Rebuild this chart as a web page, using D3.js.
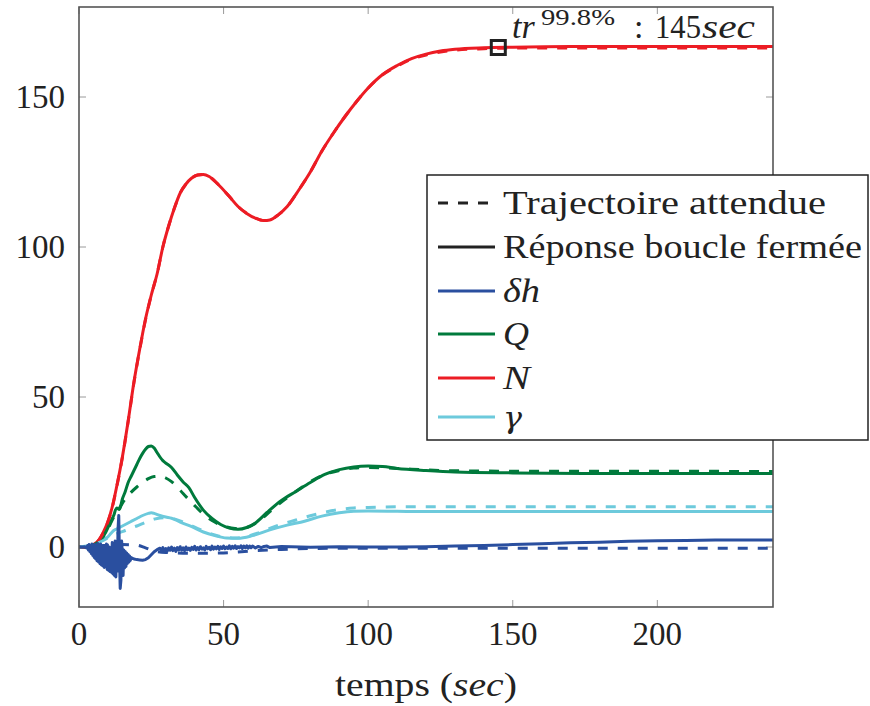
<!DOCTYPE html>
<html><head><meta charset="utf-8">
<script src="https://cdn.jsdelivr.net/npm/d3@7"></script>
<style>body{margin:0;background:#fff}svg{display:block}text{font-family:"Liberation Serif","DejaVu Serif",serif;fill:#222}</style>
</head><body><svg id="c" width="870" height="706"></svg>
<script>
// ---------- data ----------
const xTicks = [0, 50, 100, 150, 200];
const yTicks = [0, 50, 100, 150];
const seriesNames = ["δh", "Q", "N", "γ"];
const seriesColors = ["#2a4f9f", "#007a3c", "#ec1c24", "#6dcadc"];
const legendLabels = ["Trajectoire attendue", "Réponse boucle fermée"];

// δh — closed-loop response (noisy)
const dhRespT = [0,1,2,2.5,3,3.25,3.5,3.75,4,4.25,4.5,4.75,5,5.25,5.5,5.75,6,6.25,6.5,6.75,7,7.25,7.5,7.75,8,8.25,8.5,8.75,9,9.25,9.5,9.75,10,10.25,10.5,10.75,11,11.25,11.5,11.75,12,12.25,12.5,12.75,13,13.25,13.5,13.75,14,14.25,14.5,14.75,15,15.25,15.5,15.75,16,16.25,16.5,16.75,17,17.25,17.5,17.75,18,19,20,21,22,23,24,25,26,27,28,28.5,29,29.5,30,30.5,31,31.5,32,32.5,33,33.5,34,34.5,35,35.5,36,36.5,37,37.5,38,38.5,39,39.5,40,40.5,41,41.5,42,42.5,43,43.5,44,44.5,45,45.5,46,46.5,47,47.5,48,48.5,49,49.5,50,50.5,51,51.5,52,52.5,53,53.5,54,54.5,55,55.5,56,56.5,57,57.5,58,58.5,59,59.5,60,61,62,63,64,65,66,70,80,90,100,110,120,130,140,150,160,170,180,190,200,210,220,230,240];
const dhRespV = [0,0,0.1,-0.3,0.5,-1.0,0.8,-1.5,0.3,-2.2,1.0,-2.8,0.2,-3.5,0.8,-4.0,-0.5,-4.6,1.2,-5.0,0.0,-5.6,1.0,-6.0,-1.0,-6.3,0.5,-6.8,-1.5,-6.5,1.0,-7.5,-2.0,-7.8,0.0,-8.2,-1.0,-8.5,1.5,-9.0,-2.0,-9.5,2.0,-10.0,-1.0,-8.0,6.0,10.5,-4.0,-13.8,-11.0,2.0,-2.0,-9.5,-1.0,-7.0,-1.5,-6.5,-2.0,-5.5,-2.5,-5.0,-3.0,-4.5,-3.5,-4.0,-4.2,-4.3,-4.4,-4.2,-3.6,-2.6,-1.6,-0.9,-0.4,-1.3,-0.2,-1.2,-0.5,-1.4,-0.3,-1.1,0.0,-1.2,-0.4,-1.5,-0.2,-1.0,0.1,-1.1,-0.3,-1.2,0.0,-0.9,-0.4,-1.1,-0.1,-0.8,0.2,-1.0,-0.2,-0.9,0.1,-0.7,-0.3,-1.0,0.2,-0.6,-0.1,-0.9,0.3,-0.7,0.0,-0.6,0.2,-0.8,0.1,-0.5,0.3,-0.6,0.0,-0.5,0.4,-0.6,0.2,-0.4,0.4,-0.5,0.1,-0.3,0.4,-0.5,0.3,-0.3,0.4,-0.4,0.3,-0.2,0.3,-0.3,0.2,-0.2,0.2,0.3,-0.2,0.2,-0.1,0.1,0.0,0.0,0.1,0.3,0.5,0.8,1.1,1.4,1.6,1.9,2.1,2.2,2.3,2.3,2.3,2.2,2.0,1.9,1.8];
// δh — expected trajectory
const dhExpT = [0,5,10,15,20,23,26,30,40,50,60,70,80,100,150,240];
const dhExpV = [0,0.2,0.6,0.8,0.6,-0.3,-1.3,-1.8,-2.1,-2.0,-1.3,-0.8,-0.5,-0.4,-0.4,-0.4];

// Q
const qRespT = [0,3,5,7,9,11,12,13,14,15,16,17,18,19,20,21,22,23,24,25,26,27,28,29,30,32,34,36,38,40,43,46,49,52,55,58,61,65,70,75,80,85,90,95,100,105,110,120,130,150,180,210,240];
const qRespV = [0,0.1,0.6,2.0,4.5,8.5,10.5,13.0,12.5,16.0,18.5,21.5,23.5,25.5,27.5,29.5,31.2,32.6,33.5,33.7,33.0,31.5,30.0,28.8,28.0,26.5,24.0,21.7,19.8,16.5,12.3,9.5,7.5,6.3,5.9,6.5,8.0,11.5,15.5,18.5,21.5,24.2,25.8,26.7,27.0,26.8,26.2,25.5,25.0,24.7,24.5,24.5,24.5];
const qExpT = [0,5,8,10,12,14,16,18,20,22,24,26,28,30,32,34,36,38,40,43,46,50,54,58,62,66,70,75,80,85,90,95,100,110,120,140,240];
const qExpV = [0,0.5,3,6,10,13,16,18.2,20,21.5,22.8,23.5,23.6,23,21.8,20,17.8,15.8,13.8,11,8.8,7,6.2,6.5,8.5,11.8,15,18.5,21.8,24.2,25.5,26.3,26.5,26.2,25.7,25.3,25.2];

// N
const nRespT = [0,3,5,7,8.3,10,11.4,13,15,17,19,21,23,25,27,29,31,33,35,37,39,41,43,45,48,52,55,58,61,64,66,69,72,76,80,84,88,92,96,100,105,110,115,120,125,130,140,150,170,200,240];
const nRespV = [0,0.1,0.8,2.5,4.7,8.5,13,20,30,42,55,66,76,84,91,100,107,113,118,121,123,124,124.2,123.5,121,116.8,113.5,111.2,109.6,108.8,109.0,110.8,113.5,119,125,132,138,143.5,148.5,153,157.5,160.5,162.8,164.3,165.3,165.9,166.4,166.6,166.8,166.8,166.8];
const nExpT = [0,3,5,7,8.3,10,11.4,13,15,17,19,21,23,25,27,29,31,33,35,37,39,41,43,45,48,52,55,58,61,64,66,69,72,76,80,84,88,92,96,100,105,110,115,120,125,130,140,150,170,200,240];
const nExpV = [0,0.1,0.8,2.5,4.6,8.4,12.8,19.8,29.8,41.8,54.8,65.8,75.8,84,91,100,107,113,118,121,123,124,124.2,123.5,121,116.8,113.5,111.2,109.6,108.8,109.0,110.8,113.5,119,125,132,138,143.5,148.5,153,157.4,160.3,162.6,164.0,165.0,165.6,166.1,166.3,166.3,166.3,166.3];

// γ
const gRespT = [0,3,5,7,9,10,11,12,13,14,16,18,20,22,24,25,26,28,30,32,35,39,43,47,51,55,60,66,72,78,84,90,95,100,110,120,240];
const gRespV = [0,0.3,0.8,1.8,2.8,3.4,4.5,5.5,6.0,6.5,7.5,8.5,9.5,10.5,11.2,11.4,11.2,10.5,10.0,9.6,8.3,6.8,5.0,3.8,3.0,2.9,3.8,5.7,7.3,8.6,10.3,11.4,11.9,12.0,11.9,11.8,11.8];
const gExpT = [0,5,8,10,12,14,16,18,20,22,24,26,28,30,32,35,38,42,46,50,54,58,62,66,70,75,80,85,90,95,100,110,240];
const gExpV = [0,0.8,2,3,4,4.8,5.5,6.3,7.0,7.8,8.6,9.3,9.7,9.8,9.6,8.7,7.5,5.8,4.3,3.3,3.0,3.5,4.7,6.2,7.6,9.0,10.4,11.6,12.5,13.0,13.2,13.4,13.4];

const marker = {t: 145, v: 166.5};

// ---------- layout ----------
const svg = d3.select("#c");
const L = 79, R = 773, T = 7, B = 607;
const x = d3.scaleLinear().domain([0, 240]).range([L, R]);
const y = d3.scaleLinear().domain([-20, 180]).range([B, T]);

svg.append("defs").append("clipPath").attr("id", "clip")
  .append("rect").attr("x", L).attr("y", T).attr("width", R - L).attr("height", B - T);

// ticks (inside, all four sides)
const tickG = svg.append("g").attr("stroke", "#9a9a9a").attr("stroke-width", 1);
xTicks.forEach(t => {
  tickG.append("line").attr("x1", x(t)).attr("x2", x(t)).attr("y1", B).attr("y2", B - 7);
  tickG.append("line").attr("x1", x(t)).attr("x2", x(t)).attr("y1", T).attr("y2", T + 7);
});
yTicks.forEach(v => {
  tickG.append("line").attr("y1", y(v)).attr("y2", y(v)).attr("x1", L).attr("x2", L + 7);
  tickG.append("line").attr("y1", y(v)).attr("y2", y(v)).attr("x1", R).attr("x2", R - 7);
});

// tick labels
xTicks.forEach(t => svg.append("text").attr("x", x(t)).attr("y", 645).attr("text-anchor", "middle")
  .attr("font-size", 33).text(t));
yTicks.forEach(v => svg.append("text").attr("x", 65).attr("y", y(v) + 11).attr("text-anchor", "end")
  .attr("font-size", 33).text(v));

// axis label
const xl = svg.append("text").attr("x", 426).attr("y", 696).attr("text-anchor", "middle").attr("font-size", 33)
  .attr("textLength", 182).attr("lengthAdjust", "spacingAndGlyphs");
xl.append("tspan").text("temps (");
xl.append("tspan").attr("font-style", "italic").text("sec");
xl.append("tspan").text(")");

// lines
const plot = svg.append("g").attr("clip-path", "url(#clip)");
const smooth = d3.line().x(d => x(d[0])).y(d => y(d[1])).curve(d3.curveMonotoneX);
const straight = d3.line().x(d => x(d[0])).y(d => y(d[1]));
const zip = (a, b) => a.map((t, i) => [t, b[i]]);

const expected = [[dhExpT, dhExpV], [qExpT, qExpV], [nExpT, nExpV], [gExpT, gExpV]];
const response = [[dhRespT, dhRespV], [qRespT, qRespV], [nRespT, nRespV], [gRespT, gRespV]];

const drawResp = i => plot.append("path").attr("d", (i === 0 ? straight : smooth)(zip(response[i][0], response[i][1])))
  .attr("fill", "none").attr("stroke", seriesColors[i]).attr("stroke-width", 3).attr("stroke-linejoin", "round");
const drawExp = i => plot.append("path").attr("d", smooth(zip(expected[i][0], expected[i][1])))
  .attr("fill", "none").attr("stroke", seriesColors[i]).attr("stroke-width", 3).attr("stroke-dasharray", "10,10");

[3, 2, 1].forEach(drawResp);
[0, 1, 2, 3].forEach(drawExp);
drawResp(0);

// frame
svg.append("rect").attr("x", L).attr("y", T).attr("width", R - L).attr("height", B - T)
  .attr("fill", "none").attr("stroke", "#555").attr("stroke-width", 1.6);

// marker
svg.append("rect").attr("x", x(marker.t) - 7).attr("y", y(marker.v) - 7).attr("width", 14).attr("height", 14)
  .attr("fill", "none").attr("stroke", "#222").attr("stroke-width", 3);

// annotation
svg.append("text").attr("x", 512).attr("y", 38).attr("font-size", 34).attr("font-style", "italic").text("tr");
svg.append("text").attr("x", 541).attr("y", 25).attr("font-size", 24).attr("textLength", 74).attr("lengthAdjust", "spacingAndGlyphs").text("99.8%");
svg.append("text").attr("x", 634).attr("y", 38).attr("font-size", 34).text(":");
svg.append("text").attr("x", 655).attr("y", 38).attr("font-size", 34).attr("textLength", 46).attr("lengthAdjust", "spacingAndGlyphs").text("145");
svg.append("text").attr("x", 702).attr("y", 38).attr("font-size", 34).attr("font-style", "italic").attr("textLength", 53).attr("lengthAdjust", "spacingAndGlyphs").text("sec");

// legend
const lg = svg.append("g");
lg.append("rect").attr("x", 427).attr("y", 175).attr("width", 441).attr("height", 265)
  .attr("fill", "#fff").attr("stroke", "#222").attr("stroke-width", 1.5);
const rowY = [203, 247, 291, 334, 378, 417];
const rows = [
  {label: legendLabels[0], color: "#222", dash: "10,10", italic: false, w: 323},
  {label: legendLabels[1], color: "#222", dash: null, italic: false, w: 359},
  {label: seriesNames[0], color: seriesColors[0], dash: null, italic: true, w: 37},
  {label: seriesNames[1], color: seriesColors[1], dash: null, italic: true, w: 26},
  {label: seriesNames[2], color: seriesColors[2], dash: null, italic: true, w: 27},
  {label: seriesNames[3], color: seriesColors[3], dash: null, italic: true, w: 19, font: "DejaVu Serif", size: 30}
];
rows.forEach((r, i) => {
  lg.append("line").attr("x1", 438).attr("x2", 495).attr("y1", rowY[i]).attr("y2", rowY[i])
    .attr("stroke", r.color).attr("stroke-width", 3).attr("stroke-dasharray", r.dash);
  const t = lg.append("text").attr("x", 503).attr("y", rowY[i] + 11).attr("font-size", r.size || 33)
    .attr("font-style", r.italic ? "italic" : "normal")
    .attr("textLength", r.w).attr("lengthAdjust", "spacingAndGlyphs").text(r.label);
  if (r.font) t.style("font-family", r.font);
});
</script></body></html>
